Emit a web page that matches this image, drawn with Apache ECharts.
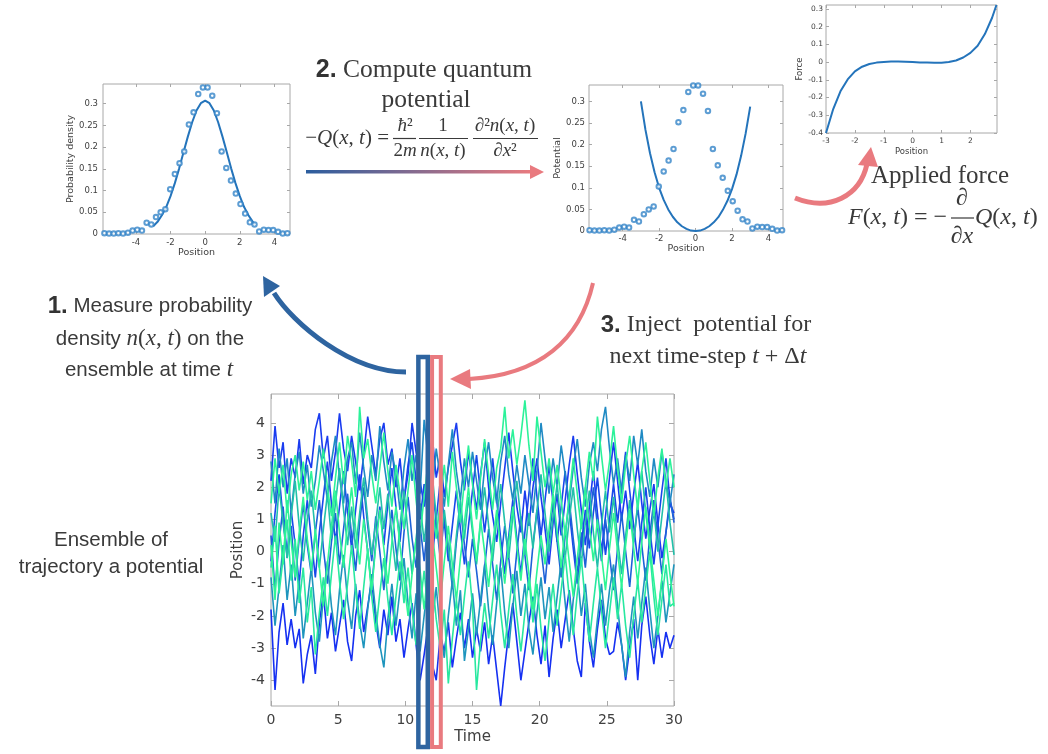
<!DOCTYPE html>
<html><head><meta charset="utf-8">
<script src="https://cdn.jsdelivr.net/npm/echarts@6/dist/echarts.min.js"></script>
<style>html,body{margin:0;padding:0;background:#fff}#main{width:1048px;height:754px}</style>
</head><body><div id="main"></div>
<script>
// ---------------- DATA ----------------
const SAMPLE_X = [-5.82,-5.55,-5.28,-5.01,-4.74,-4.46,-4.19,-3.92,-3.65,-3.38,-3.11,-2.84,-2.57,-2.30,-2.02,-1.75,-1.48,-1.21,-0.94,-0.67,-0.40,-0.13,0.14,0.41,0.68,0.95,1.22,1.49,1.77,2.04,2.31,2.58,2.85,3.12,3.39,3.66,3.93,4.21,4.48,4.75];
const SAMPLE_DENSITY = [0.002,0.001,0.001,0.002,0.001,0.003,0.008,0.010,0.008,0.026,0.022,0.039,0.050,0.057,0.103,0.138,0.163,0.190,0.252,0.280,0.322,0.337,0.337,0.318,0.278,0.190,0.152,0.123,0.093,0.069,0.047,0.027,0.022,0.006,0.010,0.009,0.009,0.005,0.001,0.002];
const DENSITY_FIT_X = [-3,-2.75,-2.5,-2.25,-2,-1.75,-1.5,-1.25,-1,-0.75,-0.5,-0.25,0,0.25,0.5,0.75,1,1.25,1.5,1.75,2,2.25,2.5,2.75,2.85];
const DENSITY_FIT_Y = [0.018,0.028,0.043,0.062,0.087,0.117,0.151,0.188,0.224,0.257,0.284,0.301,0.307,0.301,0.284,0.257,0.224,0.188,0.151,0.117,0.087,0.062,0.043,0.028,0.022];
const POTENTIAL_X = [-3,-2.75,-2.5,-2.25,-2,-1.75,-1.5,-1.25,-1,-0.75,-0.5,-0.25,0,0.25,0.5,0.75,1,1.25,1.5,1.75,2,2.25,2.5,2.75,3];
const POTENTIAL_Y = [0.300,0.234,0.180,0.136,0.100,0.072,0.050,0.033,0.020,0.011,0.005,0.001,0,0.001,0.005,0.011,0.020,0.032,0.049,0.070,0.097,0.131,0.174,0.226,0.288];
const FORCE_X = [-3,-2.75,-2.5,-2.25,-2,-1.75,-1.5,-1.25,-1,-0.75,-0.5,-0.25,0,0.25,0.5,0.75,1,1.25,1.5,1.75,2,2.25,2.5,2.75,2.9];
const FORCE_Y = [-0.400,-0.265,-0.165,-0.098,-0.052,-0.026,-0.011,-0.003,0.001,0.003,0.003,0.002,0.000,-0.002,-0.003,-0.004,-0.004,0.000,0.009,0.026,0.052,0.092,0.158,0.250,0.322];

const TIME = [0,0.3,0.6,0.9,1.2,1.5,1.8,2.1,2.4,2.7,
3,3.3,3.6,3.9,4.2,4.5,4.8,5.1,5.4,5.7,
6,6.3,6.6,6.9,7.2,7.5,7.8,8.1,8.4,8.7,
9,9.3,9.6,9.9,10.2,10.5,10.8,11.1,11.4,11.7,
12,12.3,12.6,12.9,13.2,13.5,13.8,14.1,14.4,14.7,
15,15.3,15.6,15.9,16.2,16.5,16.8,17.1,17.4,17.7,
18,18.3,18.6,18.9,19.2,19.5,19.8,20.1,20.4,20.7,
21,21.3,21.6,21.9,22.2,22.5,22.8,23.1,23.4,23.7,
24,24.3,24.6,24.9,25.2,25.5,25.8,26.1,26.4,26.7,
27,27.3,27.6,27.9,28.2,28.5,28.8,29.1,29.4,29.7,
30];
const TRAJ_LOW_BLUE = [-1.8,-4.3,-2.5,-1.6,-2.9,-2.1,-3.0,-2.4,-4.1,-3.2,
-2.6,-3.8,-2.2,-1.3,-2.7,-1.9,-3.1,-2.3,-1.5,-2.8,
-3.4,-2.0,-1.2,-2.5,-1.7,-0.9,-2.2,-3.0,-1.8,-2.6,
-1.4,-2.8,-2.1,-3.3,-2.4,-1.6,-2.9,-4.0,-3.2,-2.3,
-3.5,-4.0,-2.6,-3.1,-2.2,-3.6,-2.7,-1.9,-3.0,-2.1,
-3.3,-2.4,-3.1,-2.2,-3.5,-2.6,-3.7,-4.8,-3.6,-2.5,
-1.6,-2.8,-4.0,-3.1,-2.2,-1.4,-2.6,-3.5,-2.3,-3.9,
-2.7,-1.8,-3.0,-2.1,-1.2,-2.4,-3.4,-3.9,-1.6,-2.8,
-3.6,-2.4,-1.5,-2.7,-3.2,-3.1,-2.2,-2.9,-4.0,-3.0,
-2.1,-4.0,-2.3,-1.4,-2.6,-3.5,-2.4,-3.3,-2.5,-3.0,
-2.6];
const TRAJ_HIGH_BLUE = [2.2,3.9,2.6,3.4,1.8,2.9,2.3,3.5,2.1,3.0,
2.6,3.8,4.3,2.9,3.6,2.2,3.1,4.3,3.2,2.5,
3.6,2.8,1.9,3.0,4.2,3.3,2.4,3.5,4.0,2.7,
3.2,2.0,2.9,1.6,2.4,4.0,3.1,2.2,1.4,2.5,
3.6,2.3,3.0,1.7,2.6,3.3,4.0,2.8,1.9,3.1,
2.2,1.3,2.4,3.4,2.0,1.1,0.3,1.5,2.6,3.7,
2.5,1.4,0.6,1.9,0.8,2.0,2.9,1.7,0.7,-0.4,
0.9,1.8,0.5,1.6,2.7,3.6,2.4,1.3,0.2,1.4,
2.5,1.2,0.0,1.1,2.3,3.4,2.2,1.0,1.9,0.7,
1.8,2.8,1.5,0.4,1.3,2.1,0.9,-0.2,0.6,1.5,
1.2];
const TRAJ_MID_BLUE_A = [-0.3,1.2,2.4,1.0,-0.1,1.3,0.2,-1.0,0.5,1.6,
0.4,-0.8,0.6,1.7,2.8,1.5,0.3,1.4,2.5,1.2,
0.1,1.3,2.4,1.1,0.0,-1.1,0.3,1.4,0.2,1.5,
2.6,1.4,0.3,1.6,2.7,3.4,2.2,1.0,2.1,0.9,
-0.2,1.0,2.2,0.9,-0.3,0.8,1.9,0.7,-0.4,0.8,
1.9,3.0,1.8,0.6,1.7,2.9,1.6,0.4,-0.7,0.5,
1.6,0.4,-0.7,0.6,1.8,2.9,1.7,0.5,1.6,2.7,
1.5,0.3,1.4,2.5,1.3,0.1,-1.0,0.2,1.3,0.1,
1.2,2.3,1.1,-0.1,1.0,2.1,0.9,2.0,3.1,1.9,
0.8,-0.3,0.9,2.0,0.7,-0.4,0.8,1.9,2.9,1.6,
1.0];
const TRAJ_MID_BLUE_B = [0.5,-1.2,0.3,1.4,-0.2,0.8,-0.9,0.4,1.5,0.2,
-0.7,0.6,1.6,0.1,-1.0,0.3,1.2,-0.4,0.7,1.8,
0.5,-0.6,0.9,2.0,0.8,-0.3,1.1,0.0,-1.2,0.2,
1.3,0.1,-0.9,0.6,1.7,0.4,-0.5,0.8,-0.3,1.0,
2.1,0.9,-0.2,1.1,0.0,-1.1,0.3,1.4,0.2,-0.8,
0.4,-0.6,-1.7,-0.5,0.7,-0.4,-1.5,-0.3,0.8,-0.2,
-1.3,0.0,1.1,-0.1,-1.2,0.2,1.3,0.1,-1.0,0.4,
1.5,0.3,-0.8,0.5,1.6,0.4,-0.7,0.6,-0.5,0.9,
2.0,0.8,-0.3,1.0,-0.1,-1.2,0.1,1.2,0.0,-1.1,
0.3,1.4,0.2,-0.9,0.5,1.6,0.4,-0.7,0.6,1.7,
0.9];
const TRAJ_TEAL_LOW = [-0.8,-2.3,-1.1,0.2,-1.5,-0.4,-2.0,-0.9,-2.7,-1.6,
-0.5,-1.9,-2.8,-1.4,-0.3,-1.7,-2.6,-1.2,-0.1,-1.5,
-2.4,-1.0,-2.2,-3.0,-1.8,-0.7,-1.9,-2.9,-3.6,-2.1,
-1.0,-2.3,-1.2,-0.2,-1.6,-2.7,-1.3,-3.1,-2.0,-0.9,
-2.2,-1.1,-2.5,-3.3,-2.0,-0.9,-2.3,-1.2,-3.4,-2.4,
-1.3,-2.6,-1.5,-0.4,-1.8,-2.9,-1.6,-0.5,-1.9,-3.0,
-1.7,-0.6,-2.0,-1.0,-2.4,-3.2,-1.9,-0.8,-2.1,-1.1,
-2.5,-1.4,-0.3,-1.6,-2.8,-1.5,-0.6,-2.0,-1.0,-2.4,
-3.3,-2.1,-1.0,-2.3,-1.2,-0.4,-1.7,-2.9,-3.9,-2.5,
-1.4,-2.7,-1.6,-0.5,-1.8,-3.0,-2.0,-0.9,-2.2,-1.3,
-0.4];
const TRAJ_TEAL_HIGH = [2.8,1.5,3.2,2.0,2.9,1.2,2.4,3.1,1.8,2.7,
1.4,2.2,3.3,2.5,1.6,2.8,3.6,2.3,1.5,2.9,
3.4,2.1,3.7,2.6,1.7,3.0,2.2,3.9,2.8,1.9,
3.1,2.4,1.3,2.6,3.5,2.2,3.0,1.8,4.1,2.9,
1.9,3.2,2.3,1.4,2.7,3.8,2.5,1.6,2.9,2.0,
3.1,2.2,1.3,2.6,3.4,2.3,1.5,2.8,3.6,2.4,
1.6,2.7,1.8,3.0,2.1,1.2,2.5,4.0,2.9,1.8,
2.9,2.0,3.3,2.4,1.5,2.6,3.5,2.3,1.4,2.7,
3.4,2.5,3.8,4.5,3.2,2.1,2.9,1.8,3.0,2.2,
3.6,2.7,3.8,2.5,1.7,2.9,2.0,3.1,2.2,1.5,
2.4];
const TRAJ_TEAL_MID = [1.2,0.3,2.0,0.9,-0.2,1.1,2.2,0.8,-0.3,1.0,
1.9,0.6,-0.5,0.7,1.8,0.4,1.5,2.6,1.3,0.2,
1.4,0.1,1.2,2.3,1.0,-0.1,0.9,2.0,0.7,1.8,
0.5,-0.6,0.8,1.9,0.6,-0.7,0.4,1.5,0.3,1.4,
2.4,1.1,0.0,1.3,0.2,-0.9,0.5,1.6,0.4,1.7,
0.6,-0.4,0.9,2.0,0.8,-0.3,1.0,2.1,0.9,-0.2,
1.1,2.2,1.0,-0.1,1.2,0.1,1.3,2.4,1.2,0.0,
1.1,2.1,0.8,-0.2,1.0,2.0,0.7,-0.4,0.9,1.9,
0.6,-0.5,0.8,1.9,0.6,1.7,0.4,-0.7,0.5,1.6,
0.3,1.5,2.5,1.2,0.1,1.3,0.0,1.1,2.2,0.9,
-0.1];
const TRAJ_GREEN_LOW = [-0.5,0.8,-1.3,-0.2,1.0,-0.9,0.4,-1.6,-0.5,-2.2,
-1.1,-3.2,-1.9,-0.8,-2.0,-0.7,0.5,-0.9,-2.1,-1.0,
0.2,-1.2,-2.4,-1.1,0.1,-1.4,-2.5,-1.3,-0.2,-1.5,
-2.6,-1.4,-0.3,-1.6,-0.5,-1.8,-2.9,-1.7,-0.6,-1.9,
-0.8,-2.1,-3.0,-1.8,-4.1,-2.7,-1.5,-2.6,-1.4,-0.3,
-1.7,-4.3,-2.8,-1.6,-2.7,-1.5,-0.4,-1.9,-3.0,-1.8,
-0.7,-2.0,-3.1,-1.9,-0.8,-2.2,-1.0,-2.4,-3.4,-2.1,
-1.0,-2.3,-1.2,-0.1,-1.4,-2.6,-1.3,-0.2,-1.6,-2.8,
-1.6,-0.5,-1.8,-3.0,-1.9,-0.8,-2.1,-1.0,-2.3,-3.3,
-2.0,-0.9,-2.2,-1.1,0.0,-1.4,-2.6,-1.5,-0.4,-1.7,
-1.6];
const TRAJ_GREEN_MID = [0.2,-1.5,0.9,-0.4,1.6,0.3,-0.8,0.6,1.7,0.4,
-0.6,0.7,-0.5,-1.7,-0.4,0.8,1.9,0.6,-0.5,0.9,
2.0,0.7,-0.4,1.0,0.0,-1.2,0.2,1.3,0.1,-1.0,
0.3,1.4,0.2,-0.9,-2.0,-0.7,0.4,-0.6,-1.8,-0.5,
0.6,-0.5,-1.6,-0.3,0.8,-0.4,-1.5,-0.2,0.9,2.0,
0.8,-0.3,1.0,0.0,-1.1,0.2,1.3,0.1,-1.0,0.3,
1.4,0.2,-0.9,0.4,-0.7,-1.8,-0.6,0.5,-0.4,0.7,
1.8,0.6,-0.5,0.8,-0.3,-1.4,-0.2,0.9,2.0,0.8,
-0.3,1.0,-0.1,-1.2,0.1,1.2,0.0,-1.1,0.2,1.3,
0.1,-1.0,0.3,1.4,0.2,-0.9,-2.0,-0.8,0.4,-0.7,
-1.7];
const TRAJ_GREEN_HIGH = [1.5,2.9,1.8,2.7,1.2,2.4,3.0,1.9,2.8,1.6,
2.5,1.3,2.2,3.2,2.0,1.1,2.3,3.4,2.1,3.6,
2.8,1.7,4.5,2.9,3.5,2.4,1.5,2.6,3.7,2.5,
1.4,2.7,1.8,0.7,1.9,3.0,1.6,0.5,1.7,2.8,
1.5,0.4,1.6,2.7,1.4,3.1,2.0,0.9,2.2,3.3,
2.1,1.0,2.3,3.5,2.4,1.3,2.6,3.2,4.5,2.9,
3.8,2.7,3.6,4.7,3.3,2.2,4.2,3.1,2.0,2.9,
1.8,2.7,1.6,0.5,1.7,2.9,1.8,0.7,2.0,3.1,
2.2,4.2,3.0,1.9,2.8,3.9,2.6,1.5,2.7,3.6,
2.4,1.3,2.5,3.4,2.2,1.1,2.3,3.2,2.0,2.9,
2.0];
const TRAJ_SET = [TRAJ_LOW_BLUE, TRAJ_HIGH_BLUE, TRAJ_MID_BLUE_A, TRAJ_MID_BLUE_B, TRAJ_TEAL_LOW, TRAJ_TEAL_HIGH, TRAJ_TEAL_MID, TRAJ_GREEN_LOW, TRAJ_GREEN_MID, TRAJ_GREEN_HIGH];
const TRAJ_COLORS = ['#1530f2','#1a3cf0','#1848ea','#1d62d8','#1e95bd','#1f8ac4','#22c0aa','#28e8a0','#2ef596','#2cf29a'];
const TIME_WINDOWS = [[10.97, 11.67], [11.99, 12.64]];

const TICKS_DENSITY_X = [-4,-2,0,2,4];
const TICKS_DENSITY_Y = [0,0.05,0.1,0.15,0.2,0.25,0.3];
const TICKS_FORCE_X = [-3,-2,-1,0,1,2];
const TICKS_FORCE_Y = [-0.4,-0.3,-0.2,-0.1,0,0.1,0.2,0.3];
const TICKS_TIME = [0,5,10,15,20,25,30];
const TICKS_POS = [-4,-3,-2,-1,0,1,2,3,4];

// ---------------- CHART ----------------
const zip = (xs, ys) => xs.map((x, i) => [x, ys[i]]);
const fmt = v => String(+(+v).toFixed(3));
const AX = '#a8a8a8', LBL = '#404040', MF = '"DejaVu Sans", sans-serif';
const BLUE = '#2474bb';

function axes(g, xr, xt, yr, yt, o) {
  const tick = (vals) => ({show: true, inside: true, length: o.tl, customValues: vals, lineStyle: {color: AX, width: 1}});
  const line = {show:false, onZero:false};
  const xs = [
    {type:'value', gridIndex:g, position:'bottom', min:xr[0], max:xr[1],
      axisLine:line, splitLine:{show:false}, axisTick:tick(xt),
      axisLabel:{customValues:xt, formatter:fmt, fontSize:o.fs, color:LBL, fontFamily:MF, margin:o.xm},
      name:o.xn, nameLocation:'middle', nameGap:o.xg, nameTextStyle:{fontSize:o.nfs, color:LBL, fontFamily:MF}},
    {type:'value', gridIndex:g, position:'top', min:xr[0], max:xr[1],
      axisLine:line, splitLine:{show:false}, axisTick:tick(xt), axisLabel:{show:false}}
  ];
  const ys = [
    {type:'value', gridIndex:g, position:'left', min:yr[0], max:yr[1],
      axisLine:line, splitLine:{show:false}, axisTick:tick(yt),
      axisLabel:{customValues:yt, formatter:fmt, fontSize:o.fs, color:LBL, fontFamily:MF, margin:o.ym},
      name:o.yn, nameLocation:'middle', nameGap:o.yg, nameTextStyle:{fontSize:o.nfs, color:LBL, fontFamily:MF}},
    {type:'value', gridIndex:g, position:'right', min:yr[0], max:yr[1],
      axisLine:line, splitLine:{show:false}, axisTick:tick(yt), axisLabel:{show:false}}
  ];
  return {xs, ys};
}

const A0 = axes(0, [-5.9, 4.9], TICKS_DENSITY_X, [0, 0.345], TICKS_DENSITY_Y, {tl:3, fs:8.5, nfs:9.5, xm:4, ym:5, xg:13, yg:23, xn:'Position', yn:'Probability density'});
const A1 = axes(1, [-5.85, 4.8], TICKS_DENSITY_X, [0, 0.338], TICKS_DENSITY_Y, {tl:3, fs:8.5, nfs:9.5, xm:3, ym:4, xg:13, yg:24, xn:'Position', yn:'Potential'});
const A2 = axes(2, [-3, 2.92], TICKS_FORCE_X, [-0.4, 0.322], TICKS_FORCE_Y, {tl:3, fs:7.5, nfs:8.5, xm:4, ym:3, xg:14, yg:21, xn:'Position', yn:'Force'});
const A3 = axes(3, [0, 30], TICKS_TIME, [-4.8, 4.9], TICKS_POS, {tl:5, fs:14, nfs:15, xm:7, ym:6, xg:24, yg:25, xn:'Time', yn:'Position'});

const gridBase = {show:true, borderColor:AX, borderWidth:1, backgroundColor:'transparent', containLabel:false, outerBoundsMode:'none'};
const chart = echarts.init(document.getElementById('main'), null, {renderer:'canvas', width:1048, height:754});

const series = [
  {type:'line', xAxisIndex:0, yAxisIndex:0, data:zip(DENSITY_FIT_X, DENSITY_FIT_Y), showSymbol:false, symbol:'none', lineStyle:{color:BLUE, width:2}, z:3},
  {type:'scatter', xAxisIndex:0, yAxisIndex:0, data:zip(SAMPLE_X, SAMPLE_DENSITY), symbol:'emptyCircle', symbolSize:4.5, itemStyle:{color:'#3584c8', borderWidth:1.1}, z:4},
  {type:'line', xAxisIndex:2, yAxisIndex:2, data:zip(POTENTIAL_X, POTENTIAL_Y), showSymbol:false, symbol:'none', lineStyle:{color:BLUE, width:2}, z:3},
  {type:'scatter', xAxisIndex:2, yAxisIndex:2, data:zip(SAMPLE_X, SAMPLE_DENSITY), symbol:'emptyCircle', symbolSize:4.5, itemStyle:{color:'#3584c8', borderWidth:1.1}, z:4},
  {type:'line', xAxisIndex:4, yAxisIndex:4, data:zip(FORCE_X, FORCE_Y), showSymbol:false, symbol:'none', lineStyle:{color:BLUE, width:2}, z:3}
];
TRAJ_SET.forEach((tr, i) => series.push({
  type:'line', xAxisIndex:6, yAxisIndex:6, data:zip(TIME, tr), showSymbol:false, symbol:'none',
  lineStyle:{color:TRAJ_COLORS[i], width:1.6}, z:2, silent:true
}));

chart.setOption({
  animation:false,
  backgroundColor:'#ffffff',
  grid:[
    Object.assign({left:103, top:84, width:187, height:150}, gridBase),
    Object.assign({left:589, top:85, width:194, height:146}, gridBase),
    Object.assign({left:826, top:5, width:171, height:128}, gridBase),
    Object.assign({left:271, top:394, width:403, height:312}, gridBase)
  ],
  xAxis:[...A0.xs, ...A1.xs, ...A2.xs, ...A3.xs],
  yAxis:[...A0.ys, ...A1.ys, ...A2.ys, ...A3.ys],
  series
});

// ---------------- ANNOTATIONS ----------------
const INK = '#3a3a3a';
const SANS = '"Liberation Sans", Arial, sans-serif';
const SERIF = '"Liberation Serif", "DejaVu Serif", serif';
const PINK = '#e97a7f', DBLUE = '#2e64a0';
function T(x, y, text, rich, extra) {
  return {type:'text', z:100, style:Object.assign({x, y, text, align:'center', verticalAlign:'middle', fill:INK, rich}, extra || {})};
}
function L(x1, y1, x2, y2) {
  return {type:'line', z:100, shape:{x1, y1, x2, y2}, style:{stroke:INK, lineWidth:1.2}};
}
const mathRich = (s) => ({
  i:{fontFamily:SERIF, fontStyle:'italic', fontSize:s, fill:INK},
  u:{fontFamily:SERIF, fontSize:s, fill:INK}
});

const g = [];
// windows on trajectory plot
const winColors = [DBLUE, PINK];
TIME_WINDOWS.forEach((w, k) => {
  const x1 = chart.convertToPixel({xAxisIndex:6}, w[0]);
  const x2 = chart.convertToPixel({xAxisIndex:6}, w[1]);
  g.push({type:'rect', z:110, shape:{x:x1, y:357, width:x2 - x1, height:390}, style:{fill:'none', stroke:winColors[k], lineWidth:k === 0 ? 4.5 : 4}});
});

// step 1 arrow (blue, up-left)
g.push({type:'bezierCurve', z:100, shape:{x1:406, y1:372, cpx1:350, cpy1:372, cpx2:293, cpy2:323, x2:274, y2:293}, style:{stroke:DBLUE, lineWidth:5, fill:'none'}});
g.push({type:'polygon', z:100, shape:{points:[[263,276],[280,286],[264,297]]}, style:{fill:DBLUE}});
// step 2 arrow (gradient)
g.push({type:'rect', z:100, shape:{x:306, y:170, width:226, height:3.6},
  style:{fill:new echarts.graphic.LinearGradient(0,0,1,0,[{offset:0,color:'#2b5d9e'},{offset:1,color:PINK}])}});
g.push({type:'polygon', z:100, shape:{points:[[544,172],[530,165],[530,179]]}, style:{fill:PINK}});
// applied force arrow (pink, up)
g.push({type:'bezierCurve', z:100, shape:{x1:795, y1:198, cpx1:830, cpy1:212, cpx2:860, cpy2:196, x2:867, y2:164}, style:{stroke:PINK, lineWidth:5, fill:'none'}});
g.push({type:'polygon', z:100, shape:{points:[[871,147],[858,165],[878,167]]}, style:{fill:PINK}});
// step 3 arrow (pink, down-left)
g.push({type:'bezierCurve', z:100, shape:{x1:593, y1:283, cpx1:580, cpy1:340, cpx2:540, cpy2:375, x2:469, y2:379}, style:{stroke:PINK, lineWidth:4, fill:'none'}});
g.push({type:'polygon', z:100, shape:{points:[[450,379],[470,369],[471,389]]}, style:{fill:PINK}});

// step 2 title
g.push(T(424, 70, '{b|2.}{s| Compute quantum}', {
  b:{fontFamily:SANS, fontWeight:'bold', fontSize:25, fill:'#333'},
  s:{fontFamily:SERIF, fontSize:25.5, fill:INK}}));
g.push(T(426, 100, 'potential', null, {fontFamily:SERIF, fontSize:25.5}));
// quantum potential formula
const r21 = mathRich(21), r19 = mathRich(19);
g.push(T(389, 138, '{u|−}{i|Q}{u|(}{i|x}{u|, }{i|t}{u|) =}', r21, {align:'right'}));
g.push(T(405, 126, '{i|ħ}{u|²}', r19));
g.push(L(393, 138.5, 416, 138.5));
g.push(T(405, 151, '{u|2}{i|m}', r19));
g.push(T(443, 126, '{u|1}', r19));
g.push(L(419, 138.5, 468, 138.5));
g.push(T(443, 151, '{i|n}{u|(}{i|x}{u|, }{i|t}{u|)}', r19));
g.push(T(505, 126, '{u|∂²}{i|n}{u|(}{i|x}{u|, }{i|t}{u|)}', r19));
g.push(L(473, 138.5, 538, 138.5));
g.push(T(505, 151, '{u|∂}{i|x}{u|²}', r19));

// applied force
g.push(T(940, 176, 'Applied force', null, {fontFamily:SERIF, fontSize:25}));
const r24 = mathRich(24);
g.push(T(947, 218, '{i|F}{u|(}{i|x}{u|, }{i|t}{u|) = −}', r24, {align:'right'}));
g.push(T(962, 199, '{u|∂}', r24));
g.push(L(951, 218, 974, 218));
g.push(T(962, 237, '{u|∂}{i|x}', r24));
g.push(T(975, 218, '{i|Q}{u|(}{i|x}{u|, }{i|t}{u|)}', r24, {align:'left'}));

// step 1 text
const s1 = {b:{fontFamily:SANS, fontWeight:'bold', fontSize:24, fill:'#333'}, s:{fontFamily:SANS, fontSize:20.5, fill:INK},
  i:{fontFamily:SERIF, fontStyle:'italic', fontSize:23, fill:INK}, u:{fontFamily:SERIF, fontSize:23, fill:INK}};
g.push(T(150, 306, '{b|1.}{s| Measure probability}', s1));
g.push(T(150, 339, '{s|density }{i|n}{u|(}{i|x}{u|, }{i|t}{u|)}{s| on the}', s1));
g.push(T(149, 370, '{s|ensemble at time }{i|t}', s1));

// step 3 text
const s3 = {b:{fontFamily:SANS, fontWeight:'bold', fontSize:24, fill:'#333'}, s:{fontFamily:SERIF, fontSize:24, fill:INK},
  i:{fontFamily:SERIF, fontStyle:'italic', fontSize:24, fill:INK}};
g.push(T(706, 325, '{b|3.}{s| Inject  potential for}', s3));
g.push(T(708, 357, '{s|next time-step }{i|t}{s| + Δ}{i|t}', s3));

// ensemble label
g.push(T(111, 540, 'Ensemble of', null, {fontFamily:SANS, fontSize:20.5}));
g.push(T(111, 567, 'trajectory a potential', null, {fontFamily:SANS, fontSize:20.5}));

chart.setOption({graphic:{elements:g}});
</script></body></html>
